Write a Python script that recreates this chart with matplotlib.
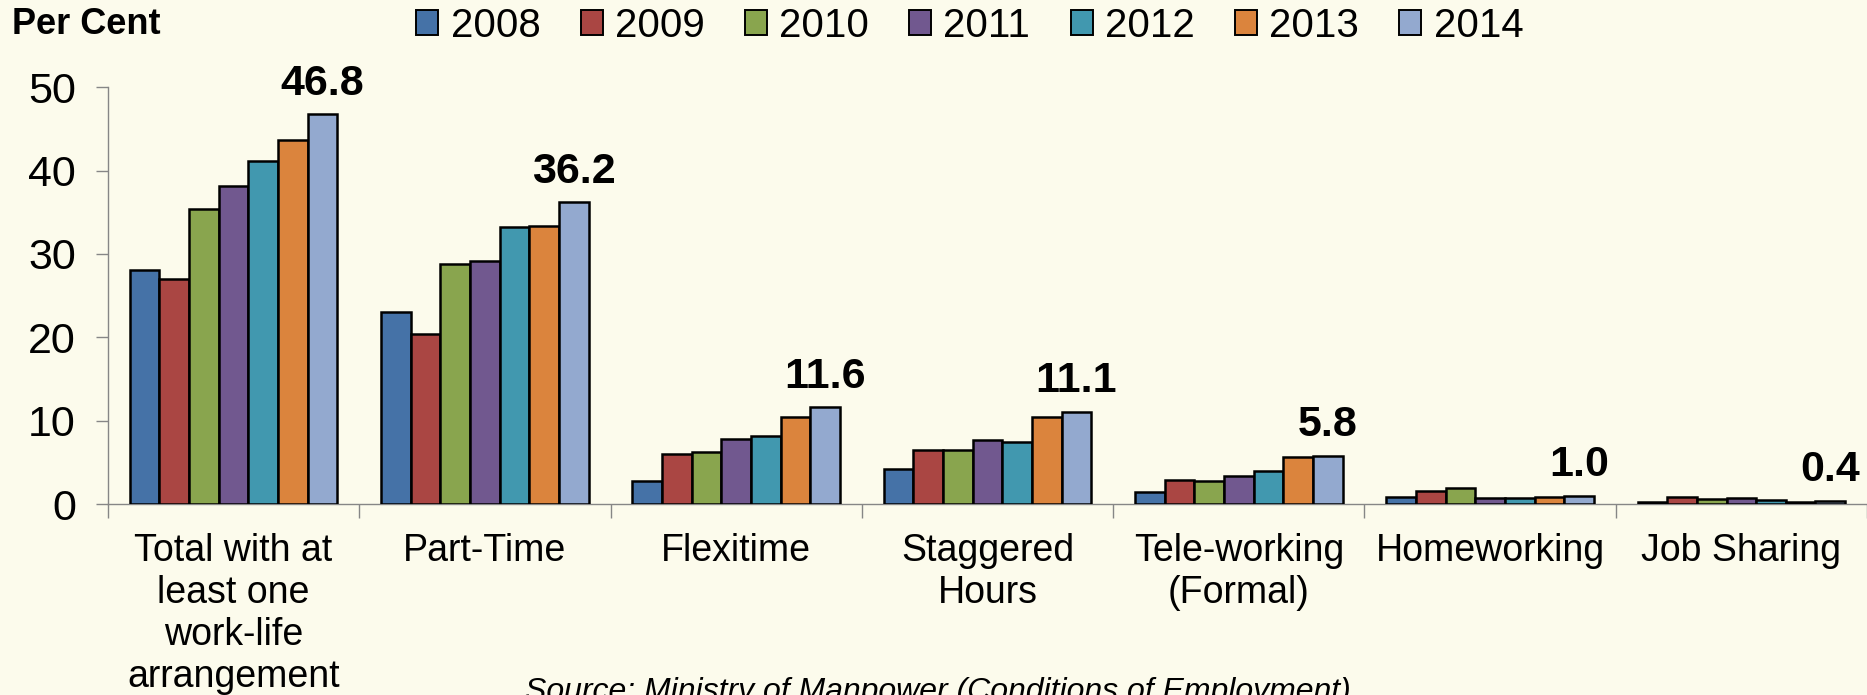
import matplotlib
matplotlib.use('Agg')
import matplotlib.pyplot as plt
import numpy as np

plt.rcParams['font.family'] = ['Liberation Sans', 'DejaVu Sans']

categories = ['Total with at\nleast one\nwork-life\narrangement', 'Part-Time', 'Flexitime',
              'Staggered\nHours', 'Tele-working\n(Formal)', 'Homeworking', 'Job Sharing']
years = ['2008', '2009', '2010', '2011', '2012', '2013', '2014']

# values per year, one entry per category
values = {
    '2008': [28.1, 23.0, 2.8, 4.2, 1.5, 0.9, 0.2],
    '2009': [27.0, 20.4, 6.0, 6.5, 2.9, 1.6, 0.8],
    '2010': [35.4, 28.8, 6.3, 6.5, 2.8, 1.9, 0.6],
    '2011': [38.1, 29.1, 7.8, 7.7, 3.4, 0.7, 0.7],
    '2012': [41.2, 33.2, 8.2, 7.5, 4.0, 0.7, 0.5],
    '2013': [43.7, 33.4, 10.4, 10.5, 5.6, 0.9, 0.3],
    '2014': [46.8, 36.2, 11.6, 11.1, 5.8, 1.0, 0.4],
}
colors = ['#4572A7', '#AA4643', '#89A54E', '#71588F', '#4198AF', '#DB843D', '#93A9CF']

bg = '#FCFBEC'
fig = plt.figure(figsize=(18.67, 6.95), dpi=100, facecolor=bg)
ax = fig.add_axes([0.0578, 0.2748, 0.9422, 0.5996])
ax.set_facecolor(bg)

x = np.arange(len(categories))
width = 0.118
for j, yr in enumerate(years):
    ax.bar(x + (j - 3) * width, values[yr], width, color=colors[j],
           edgecolor='black', linewidth=1.8, label=yr, zorder=3)

# labels for the latest year
for i, v in enumerate(values['2014']):
    ax.annotate(f'{v:.1f}', (x[i] + 3 * width, v), xytext=(0, 14), textcoords='offset points',
                ha='center', va='baseline', fontsize=31, fontweight='bold', annotation_clip=False)

ax.set_xlim(-0.5, len(categories) - 0.5)
ax.set_ylim(0, 50)
ax.set_yticks(range(0, 51, 10))
ax.tick_params(axis='y', labelsize=31, length=9, width=1, color='#868686', pad=14)

ax.set_xticks(np.arange(-0.5, len(categories), 1.0))
ax.set_xticklabels([])
ax.tick_params(axis='x', which='major', length=10, width=1, color='#868686')
ax.set_xticks(x, minor=True)
ax.set_xticklabels(categories, minor=True, fontsize=27, linespacing=1.21, va='top')
ax.tick_params(axis='x', which='minor', length=0, pad=21)

for s in ['top', 'right']:
    ax.spines[s].set_visible(False)
for s in ['left', 'bottom']:
    ax.spines[s].set_color('#868686')
    ax.spines[s].set_linewidth(1)

fig.text(0.0064, 0.965, 'Per Cent', fontsize=26, fontweight='bold', va='center', ha='left')

leg = fig.legend(loc='center', bbox_to_anchor=(0.5194, 0.963), ncol=7, frameon=False,
                 fontsize=29, handlelength=0.55, handleheight=0.55, handletextpad=0.3,
                 columnspacing=1.0, borderpad=0)
for h in leg.legend_handles:
    h.set_linewidth(1.4)

fig.text(0.281, 0.004, 'Source: Ministry of Manpower (Conditions of Employment)',
         fontsize=23, style='italic', ha='left', va='center')

fig.savefig('out.png', dpi=100, facecolor=bg)
